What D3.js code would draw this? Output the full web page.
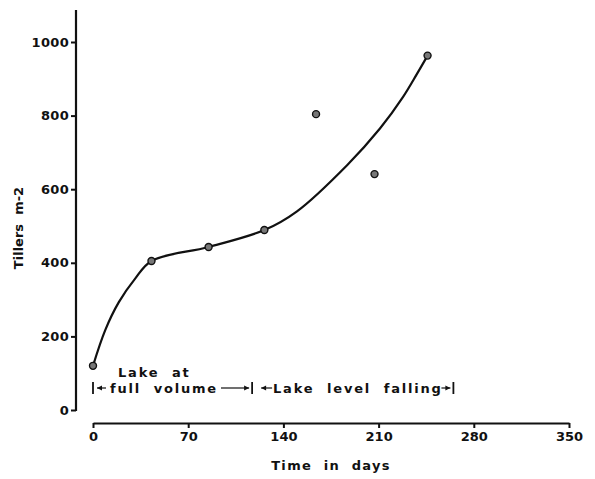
<!DOCTYPE html>
<html><head><meta charset="utf-8">
<script src="https://cdn.jsdelivr.net/npm/d3@7"></script>
<style>
body{margin:0;background:#fff;}
text{font-family:"DejaVu Sans",sans-serif;fill:#111;}
</style></head>
<body><svg id="c" width="595" height="479"></svg>
<script>
// Data
// observed points
const obsDays = [0, 43, 85, 126, 164, 207, 246];
const obsTillers = [120, 405, 443, 489, 804, 641, 963];
// fitted (hand-drawn) curve, read along its path
const fitDays = [0, 9, 19, 31, 43, 85, 126, 150, 187, 211, 228, 238, 246];
const fitTillers = [120, 217, 293, 357, 405, 443, 489, 540, 666, 765, 851, 912, 963];
const xTicks = [0, 70, 140, 210, 280, 350];
const yTicks = [0, 200, 400, 600, 800, 1000];
const phaseBounds = [0, 117, 265]; // days: full-volume start, change, end of falling

const svg = d3.select("#c");
const x = d3.scaleLinear().domain([0, 350]).range([93, 569]);
const y = d3.scaleLinear().domain([0, 1000]).range([410, 42]);
const ink = "#111";

// Y axis
const ya = svg.append("g").attr("transform", "translate(76,0)")
  .call(d3.axisLeft(y).tickValues(yTicks).tickFormat(d3.format("d")).tickSize(5).tickSizeOuter(0).tickPadding(2));
ya.select(".domain").remove();
ya.selectAll(".tick line").attr("stroke", ink).attr("stroke-width", 2);
ya.selectAll(".tick text").style("font-size", "13px").style("font-weight", "bold").style("letter-spacing", "0.3px").attr("fill", ink);
svg.append("line").attr("x1", 76).attr("x2", 76).attr("y1", y(0) + 1).attr("y2", y(1087))
  .attr("stroke", ink).attr("stroke-width", 2.2);

// X axis
const xa = svg.append("g").attr("transform", "translate(0,423)")
  .call(d3.axisBottom(x).tickValues(xTicks).tickSize(5).tickSizeOuter(0).tickPadding(4));
xa.select(".domain").attr("stroke", ink).attr("stroke-width", 2);
xa.selectAll(".tick line").attr("stroke", ink).attr("stroke-width", 2);
xa.selectAll(".tick text").style("font-size", "13px").style("font-weight", "bold").attr("fill", ink);

// Axis titles
svg.append("text").attr("x", 331).attr("y", 470).attr("text-anchor", "middle")
  .style("font-size", "13px").style("font-weight", "bold").style("letter-spacing", "1.3px")
  .attr("xml:space", "preserve").text("Time  in  days");
svg.append("text").attr("transform", "translate(23,228) rotate(-90)").attr("text-anchor", "middle")
  .style("font-size", "13px").style("font-weight", "bold")
  .attr("xml:space", "preserve").text("Tillers  m-2");

// Fitted curve
const fit = fitDays.map((d, i) => [d, fitTillers[i]]);
const line = d3.line().x(d => x(d[0])).y(d => y(d[1])).curve(d3.curveCatmullRom.alpha(0.5));
svg.append("path").attr("d", line(fit)).attr("fill", "none").attr("stroke", ink).attr("stroke-width", 2.2);

// Points
const obs = obsDays.map((d, i) => [d, obsTillers[i]]);
svg.selectAll("circle.pt").data(obs).enter().append("circle").attr("class", "pt")
  .attr("cx", d => x(d[0])).attr("cy", d => y(d[1])).attr("r", 3.5)
  .attr("fill", "#777").attr("stroke", ink).attr("stroke-width", 1.4);

// Annotation
const fs = "13px", ls = "1.8px";
svg.append("text").attr("x", 118).attr("y", 377).style("font-size", fs).style("font-weight", "bold")
  .style("letter-spacing", ls).attr("xml:space", "preserve").text("Lake  at");
const by = 393;
phaseBounds.forEach(d => {
  svg.append("line").attr("x1", x(d)).attr("x2", x(d)).attr("y1", by - 11).attr("y2", by + 1)
    .attr("stroke", ink).attr("stroke-width", 1.8);
});
function arrow(x1, x2) {
  svg.append("line").attr("x1", x1).attr("x2", x2).attr("y1", by - 5).attr("y2", by - 5)
    .attr("stroke", ink).attr("stroke-width", 1.2);
  const dir = Math.sign(x2 - x1);
  svg.append("path").attr("d", `M${x2},${by - 5}L${x2 - dir * 5},${by - 7.5}L${x2 - dir * 5},${by - 2.5}Z`).attr("fill", ink);
}
arrow(x(0) + 13, x(0) + 4);
svg.append("text").attr("x", 110).attr("y", by).style("font-size", fs).style("font-weight", "bold")
  .style("letter-spacing", ls).attr("xml:space", "preserve").text("full  volume");
arrow(221, x(phaseBounds[1]) - 3);
arrow(x(phaseBounds[1]) + 20, x(phaseBounds[1]) + 9);
svg.append("text").attr("x", 273).attr("y", by).style("font-size", fs).style("font-weight", "bold")
  .style("letter-spacing", ls).attr("xml:space", "preserve").text("Lake  level  falling");
arrow(x(phaseBounds[2]) - 12, x(phaseBounds[2]) - 3);
</script></body></html>
